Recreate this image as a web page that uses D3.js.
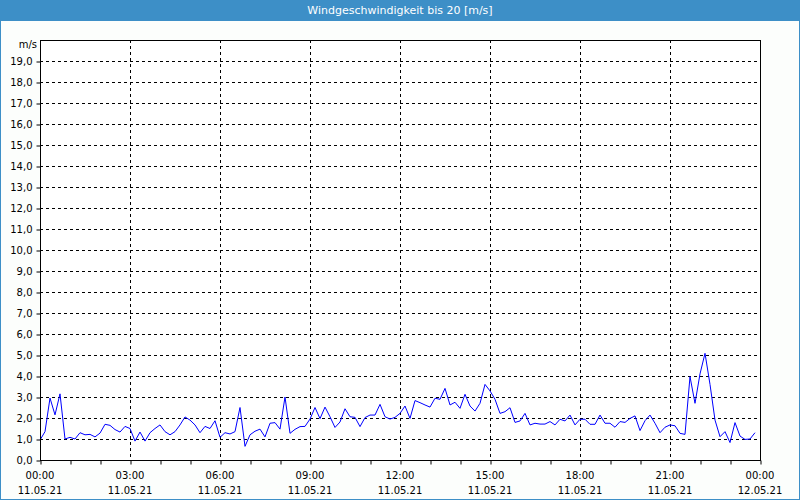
<!DOCTYPE html>
<html>
<head>
<meta charset="utf-8">
<script src="https://cdn.jsdelivr.net/npm/d3@7"></script>
<style>
html,body{margin:0;padding:0;background:#fcfefc;}
svg{display:block;}
text{font-family:Tahoma,"DejaVu Sans",Verdana,sans-serif;}
</style>
</head>
<body>
<svg id="chart" width="800" height="500"></svg>
<script>
const title = "Windgeschwindigkeit bis 20 [m/s]";
const unitLabel = "m/s";
const startTime = "2021-05-11T00:00";
const endTime = "2021-05-12T00:00";
const stepMinutes = 10;
const windSpeed = [
  0.95,1.35,2.95,2.15,3.15,1.0,1.08,1.0,1.3,1.2,1.22,1.1,
  1.28,1.7,1.65,1.45,1.33,1.6,1.5,0.9,1.33,0.9,1.3,1.5,
  1.67,1.35,1.2,1.35,1.67,2.05,1.9,1.67,1.3,1.6,1.5,1.87,
  1.08,1.3,1.24,1.35,2.5,0.65,1.2,1.37,1.47,1.1,1.75,1.78,
  1.47,3.0,1.27,1.46,1.59,1.6,1.95,2.5,1.97,2.52,2.06,1.55,
  1.81,2.44,2.06,2.03,1.59,2.02,2.14,2.14,2.65,2.06,1.95,2.03,
  2.22,2.57,1.98,2.83,2.73,2.62,2.52,2.94,2.89,3.41,2.62,2.75,
  2.46,3.13,2.57,2.33,2.7,3.6,3.29,2.89,2.22,2.3,2.49,1.79,
  1.86,2.22,1.67,1.75,1.71,1.71,1.83,1.67,1.94,1.86,2.14,1.67,
  1.94,1.94,1.7,1.7,2.14,1.75,1.75,1.56,1.83,1.79,1.98,2.1,
  1.4,1.87,2.14,1.75,1.3,1.56,1.67,1.63,1.27,1.22,3.97,2.7,
  4.1,5.08,3.6,1.9,1.11,1.35,0.83,1.78,1.14,0.98,1.0,1.3
];
const yTicks = [0,1,2,3,4,5,6,7,8,9,10,11,12,13,14,15,16,17,18,19];
const yMax = 20;

const W = 800, H = 500;
const plot = {left: 40, right: 760, top: 40, bottom: 460};
const svg = d3.select("#chart");

const parse = d3.timeParse("%Y-%m-%dT%H:%M");
const t0 = parse(startTime), t1 = parse(endTime);
const times = windSpeed.map((v, i) => d3.timeMinute.offset(t0, i * stepMinutes));

const x = d3.scaleTime().domain([t0, t1]).range([plot.left, plot.right]);
const y = d3.scaleLinear().domain([0, yMax]).range([plot.bottom, plot.top]);

// outer frame
svg.append("rect").attr("x",0.5).attr("y",0.5).attr("width",W-1).attr("height",H-1)
  .attr("fill","#fcfefc").attr("stroke","#3d8fc7").attr("stroke-width",1);
// title bar
svg.append("rect").attr("x",0).attr("y",0).attr("width",W).attr("height",21).attr("fill","#3d8fc7");
svg.append("text").attr("x",W/2).attr("y",14).attr("text-anchor","middle")
  .attr("fill","#ffffff").attr("font-size","11px").attr("font-weight","normal")
  .attr("font-family","'Liberation Sans',Arial,sans-serif").text(title);

// plot background
svg.append("rect").attr("x",plot.left).attr("y",plot.top)
  .attr("width",plot.right-plot.left).attr("height",plot.bottom-plot.top).attr("fill","#ffffff");

// horizontal grid
const g = svg.append("g");
g.selectAll("line.h").data(yTicks.filter(d => d > 0)).join("line")
  .attr("x1",plot.left).attr("x2",plot.right)
  .attr("y1",d => Math.round(y(d))+0.5).attr("y2",d => Math.round(y(d))+0.5)
  .attr("stroke","#000").attr("stroke-dasharray","3,3").attr("stroke-width",1);

const majorTimes = d3.timeHour.every(3).range(t0, d3.timeMinute.offset(t1,1));
g.selectAll("line.v").data(majorTimes.filter(d => +d > +t0 && +d < +t1)).join("line")
  .attr("y1",plot.top).attr("y2",plot.bottom)
  .attr("x1",d => Math.round(x(d))+0.5).attr("x2",d => Math.round(x(d))+0.5)
  .attr("stroke","#000").attr("stroke-dasharray","3,3").attr("stroke-width",1);

// y axis
const yAxis = d3.axisLeft(y).tickValues(yTicks).tickSize(4)
  .tickFormat(d => d3.format(".1f")(d).replace(".", ","));
const ya = svg.append("g").attr("transform",`translate(${plot.left+0.5},0.5)`).call(yAxis);
ya.select(".domain").remove();
ya.selectAll("line").attr("stroke","#000");
ya.selectAll("text").attr("font-size","10px").attr("fill","#000").attr("dx","-1")
  .attr("font-family","Tahoma,'DejaVu Sans',sans-serif");

svg.append("text").attr("x",plot.left-3).attr("y",48).attr("text-anchor","end")
  .attr("font-size","10px").attr("fill","#000").text(unitLabel);

// x axis
const xAxis = d3.axisBottom(x).ticks(d3.timeHour.every(1)).tickSize(4).tickFormat("");
const xa = svg.append("g").attr("transform",`translate(0.5,${plot.bottom+0.5})`).call(xAxis);
xa.select(".domain").remove();
xa.selectAll("line").attr("stroke","#000");

const fmtT = d3.timeFormat("%H:%M"), fmtD = d3.timeFormat("%d.%m.%y");
const lab = svg.append("g");
lab.selectAll("text.t").data(majorTimes).join("text")
  .attr("x",d => x(d)).attr("y",479).attr("text-anchor","middle")
  .attr("font-size","10px").attr("fill","#000").text(d => fmtT(d));
lab.selectAll("text.d").data(majorTimes).join("text")
  .attr("x",d => x(d)).attr("y",494).attr("text-anchor","middle")
  .attr("font-size","10px").attr("fill","#000").text(d => fmtD(d));

// line
const line = d3.line().x((d,i) => x(times[i])).y(d => y(d));
svg.append("path").datum(windSpeed).attr("d",line)
  .attr("fill","none").attr("stroke","#0000ff").attr("stroke-width",1);

// plot border
svg.append("rect").attr("x",plot.left+0.5).attr("y",plot.top+0.5)
  .attr("width",plot.right-plot.left).attr("height",plot.bottom-plot.top)
  .attr("fill","none").attr("stroke","#000").attr("stroke-width",1);
</script>
</body>
</html>
